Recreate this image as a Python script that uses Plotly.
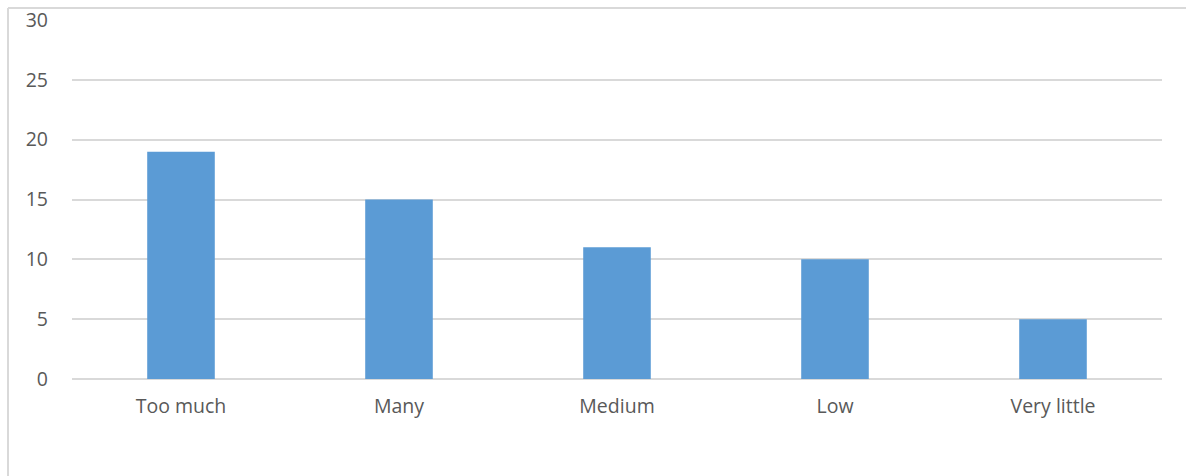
import plotly.graph_objects as go

categories = ["Too much", "Many", "Medium", "Low", "Very little"]
values = [19, 15, 11, 10, 5]
y_ticks = [0, 5, 10, 15, 20, 25, 30]

W, H = 1186, 476
ml, mr, mt, mb = 72, 24, 20, 97
pw, ph = W - ml - mr, H - mt - mb

def px_x(x):
    return (x - ml) / pw

def px_y(y):
    return (H - mb - y) / ph

fig = go.Figure(go.Bar(
    x=categories, y=values,
    marker=dict(color="#5B9BD5", line=dict(width=0)),
    width=0.31,
))

fig.update_layout(
    width=W, height=H,
    margin=dict(l=ml, r=mr, t=mt, b=mb, autoexpand=False),
    paper_bgcolor="white", plot_bgcolor="white",
    showlegend=False,
    font=dict(family="Open Sans, sans-serif", size=19.5, color="#595959"),
    shapes=[
        dict(type="line", xref="paper", yref="paper",
             x0=px_x(8), x1=px_x(1300), y0=px_y(8), y1=px_y(8),
             line=dict(color="#D9D9D9", width=2)),
        dict(type="line", xref="paper", yref="paper",
             x0=px_x(8), x1=px_x(8), y0=px_y(8), y1=px_y(600),
             line=dict(color="#D9D9D9", width=2)),
    ],
)
fig.update_xaxes(
    showgrid=False, showline=False, zeroline=False,
    ticks="", ticklabelstandoff=13, automargin=False,
    tickfont=dict(size=19.5, color="#595959"),
)
fig.update_yaxes(
    range=[0, 30], tickvals=y_ticks, ticktext=[str(v) for v in y_ticks],
    showgrid=True, gridcolor="#D9D9D9", gridwidth=1.5,
    zeroline=True, zerolinecolor="#D9D9D9", zerolinewidth=1.5,
    showline=False, ticks="", ticklabelstandoff=23, automargin=False,
    tickfont=dict(size=19.5, color="#595959"),
)

fig.write_html("out.html")
